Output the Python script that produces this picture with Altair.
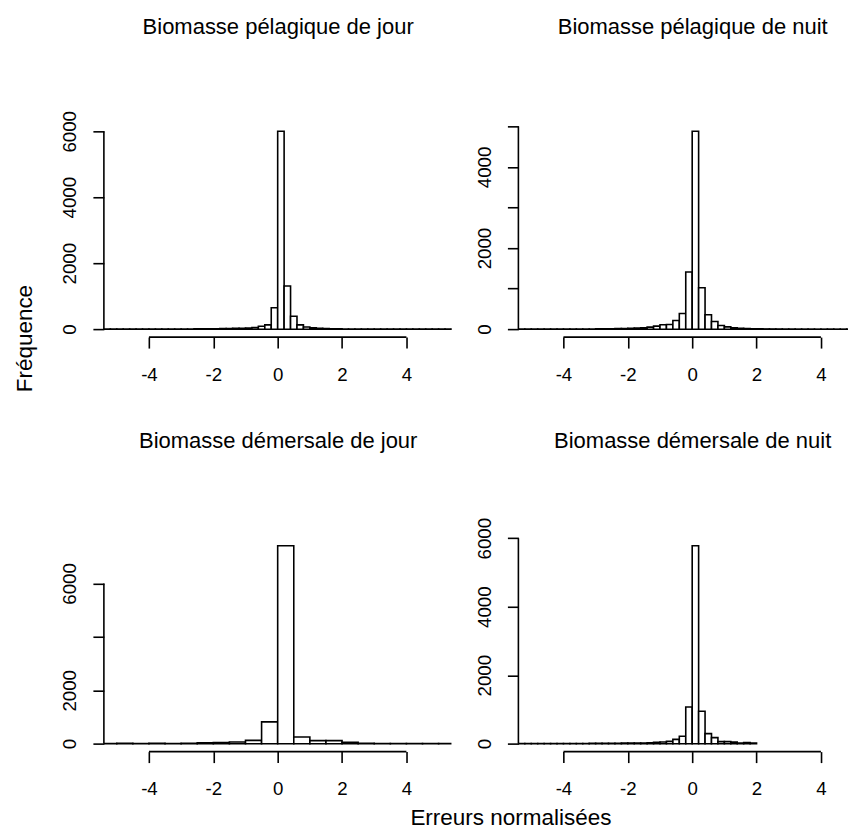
import altair as alt
import pandas as pd

FONT = "Liberation Sans"

PANEL_TITLES = [
    "Biomasse pélagique de jour",
    "Biomasse pélagique de nuit",
    "Biomasse démersale de jour",
    "Biomasse démersale de nuit",
]
X_TITLE = "Erreurs normalisées"
Y_TITLE = "Fréquence"

X_TICKS = [-4, -2, 0, 2, 4]

# Panel 1 : pélagique de jour (bins of 0.2 starting at -5.6)
P1_START, P1_BW = -5.6, 0.2
P1_COUNTS = [0, 1, 2, 1, 2, 1, 2, 2, 3, 2, 3, 4, 5, 6, 7, 8, 10, 12, 14, 18,
             20, 25, 30, 38, 50, 90, 130, 650,
             6000, 1310, 390, 130, 65, 40, 25, 16, 12, 9, 7, 5, 4, 4, 3, 3,
             2, 2, 2, 1, 2, 1, 1, 2, 1, 1, 1, 1]
P1_YTICKS = [0, 1000, 2000, 3000, 4000, 5000, 6000]
P1_YLABELS = [0, 2000, 4000, 6000]

# Panel 2 : pélagique de nuit
P2_START, P2_BW = -5.6, 0.2
P2_COUNTS = [1, 1, 2, 1, 2, 2, 3, 2, 3, 4, 4, 5, 6, 8, 10, 12, 14, 18, 22, 28,
             33, 50, 75, 110, 115, 213, 385, 1410,
             4880, 1020, 355, 190, 90, 57, 33, 22, 14, 10, 8, 6, 5, 4, 3, 3,
             2, 2, 2, 1, 1, 2, 1, 1, 1, 1, 1, 1]
P2_YTICKS = [0, 1000, 2000, 3000, 4000, 5000]
P2_YLABELS = [0, 2000, 4000]

# Panel 3 : démersale de jour (bins of 0.5 starting at -6.0)
P3_START, P3_BW = -6.0, 0.5
P3_COUNTS = [5, 8, 12, 8, 10, 9, 15, 35, 40, 63, 125, 815,
             7410, 250, 113, 113, 50, 12, 8, 6, 5, 4, 3, 2]
P3_YTICKS = [0, 2000, 4000, 6000]
P3_YLABELS = [0, 2000, 6000]

# Panel 4 : démersale de nuit (bins of 0.2 from -5.6 to 2.0)
P4_START, P4_BW = -5.6, 0.2
P4_COUNTS = [2, 2, 3, 2, 3, 3, 4, 4, 5, 5, 6, 7, 8, 9, 10, 12, 14, 15, 18, 20,
             22, 28, 40, 50, 68, 127, 215, 1070,
             5780, 946, 295, 178, 60, 60, 45, 20, 35, 15]
P4_YTICKS = [0, 1000, 2000, 3000, 4000, 5000, 6000]
P4_YLABELS = [0, 2000, 4000, 6000]

H = 214
W = 348            # full plot width (x from -5.4 to 5.4)
W_RIGHT = 330      # right column is cut by the picture edge
COL_GAP = 67
ROW_GAP = 201
LW = 1.6
TICK = 11
LABEL_SIZE = 18.7
TITLE_SIZE = 22
OUTER_SIZE = 22.5
X_MIN, X_MAX = -5.4, 5.4

TITLE_STYLE = dict(titleFont=FONT, titleFontWeight="normal", titleColor="black",
                   titleAlign="center", titleBaseline="alphabetic")


def make_panel(title, start, bw, counts, yticks, ylabels, width, xtitle=None):
    n = len(counts)
    left = [round(start + i * bw, 3) for i in range(n)]
    right = [round(v + bw, 3) for v in left]
    df = pd.DataFrame({"left": left, "right": right, "count": counts})
    top = max(counts)
    xmax = X_MIN + (X_MAX - X_MIN) * width / W
    xs = alt.Scale(domain=[X_MIN, xmax], nice=False, zero=False)
    ys = alt.Scale(domain=[-0.04 * top, 1.04 * top], nice=False, zero=False)
    lab = "[" + ",".join(str(v) for v in ylabels) + "]"
    yaxis = alt.Axis(
        values=yticks,
        labelExpr=f"indexof({lab}, datum.value) >= 0 ? '' + datum.value : ''",
        domain=False, grid=False,
        tickSize=TICK, tickWidth=LW, tickColor="black",
        labelAngle=270, labelAlign="center", labelBaseline="alphabetic",
        labelPadding=17, labelFont=FONT, labelFontSize=LABEL_SIZE,
        labelColor="black",
        labelOverlap=False, labelFlush=False, labelBound=False,
        # panel title, drawn above the plot area
        title=title, titleAngle=0, titleX=W / 2, titleY=-90,
        titleFontSize=TITLE_SIZE, **TITLE_STYLE,
    )
    xkw = dict(
        values=X_TICKS,
        labelExpr="datum.value < 0 ? '-' + abs(datum.value) : '' + datum.value",
        domain=False, grid=False,
        tickSize=TICK, tickWidth=LW, tickColor="black",
        labelAlign="center", labelBaseline="top", labelPadding=17,
        labelFont=FONT, labelFontSize=LABEL_SIZE, labelColor="black",
        labelOverlap=False, labelFlush=False, labelBound=False,
    )
    if xtitle is None:
        xkw.update(title=None)
    else:
        text, tx, ty, angle = xtitle
        xkw.update(title=text, titleX=tx, titleY=ty, titleAngle=angle,
                   titleFontSize=OUTER_SIZE, **TITLE_STYLE)
    bars = alt.Chart(df).mark_rect(
        fill="white", stroke="black", strokeWidth=LW, clip=True
    ).encode(
        x=alt.X("left:Q", scale=xs, axis=alt.Axis(**xkw)),
        x2="right:Q",
        y=alt.Y("count:Q", scale=ys, axis=yaxis),
        y2=alt.datum(0),
    )
    one = pd.DataFrame({"k": [0]})
    yline = alt.Chart(one).mark_rule(color="black", strokeWidth=LW).encode(
        x=alt.value(0), y=alt.datum(0), y2=alt.datum(yticks[-1])
    )
    xline = alt.Chart(one).mark_rule(color="black", strokeWidth=LW).encode(
        x=alt.datum(X_TICKS[0]), x2=alt.datum(X_TICKS[-1]), y=alt.value(H)
    )
    return alt.layer(bars, yline, xline).properties(width=width, height=H)


p1 = make_panel(PANEL_TITLES[0], P1_START, P1_BW, P1_COUNTS, P1_YTICKS, P1_YLABELS, W,
                xtitle=(Y_TITLE, -72, 1, 270))
p2 = make_panel(PANEL_TITLES[1], P2_START, P2_BW, P2_COUNTS, P2_YTICKS, P2_YLABELS, W_RIGHT)
p3 = make_panel(PANEL_TITLES[2], P3_START, P3_BW, P3_COUNTS, P3_YTICKS, P3_YLABELS, W,
                xtitle=(X_TITLE, 407, 73, 0))
p4 = make_panel(PANEL_TITLES[3], P4_START, P4_BW, P4_COUNTS, P4_YTICKS, P4_YLABELS, W_RIGHT)

chart = alt.concat(
    p1, p2, p3, p4, columns=2, bounds="flush",
    spacing={"row": ROW_GAP, "column": COL_GAP},
).properties(
    padding={"left": 5, "top": 7, "right": 0, "bottom": 0}
).configure(
    font=FONT, background="white"
).configure_view(stroke="transparent", strokeWidth=0)

chart.save("out.html", embed_options={"renderer": "svg", "actions": False})
